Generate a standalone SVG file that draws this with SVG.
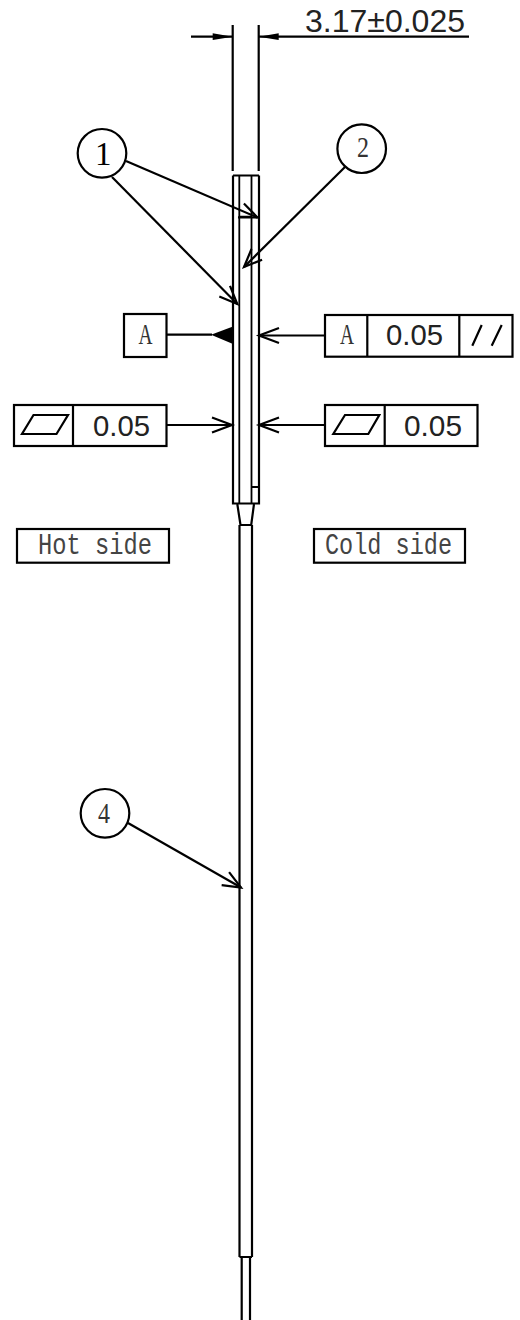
<svg xmlns="http://www.w3.org/2000/svg" width="520" height="1320" viewBox="0 0 520 1320">
<style>
.l{fill:none;stroke:#000;stroke-width:2.2}
.t{fill:none;stroke:#000;stroke-width:1.8}
.b{fill:#fff;stroke:#000;stroke-width:2.2}
.n{font-family:"Liberation Sans",Arial,sans-serif;font-size:30px;fill:#222}
.m{font-family:"Liberation Serif","Times New Roman",serif;font-size:29px;fill:#333;text-anchor:middle}
.s{font-family:"Liberation Mono","Courier New",monospace;font-size:30px;fill:#444}
</style>
<defs>
<marker id="open" markerUnits="userSpaceOnUse" markerWidth="24" markerHeight="20" refX="20" refY="10" orient="auto"><path d="M2 2.5 L20 10 L2 17.5" fill="none" stroke="#000" stroke-width="2.2"/></marker>
<marker id="wide" markerUnits="userSpaceOnUse" markerWidth="26" markerHeight="20" refX="22" refY="10" orient="auto"><path d="M2 2.5 L22 10 L2 17.5" fill="none" stroke="#000" stroke-width="2.2"/></marker>
<marker id="fill" markerUnits="userSpaceOnUse" markerWidth="24" markerHeight="12" refX="22" refY="6" orient="auto"><path d="M2 2.6 L22 6 L2 9.4Z" fill="#000"/></marker>
</defs>
<rect width="520" height="1320" fill="#fff"/>
<g id="part">
<path class="l" d="M233 175.5H259M233 175.5V503.5H259V175.5"/>
<path class="t" d="M239.3 175.5V503.5M251.5 175.5V503.5M239.3 216.7H251.5M251.5 487H259"/>
<path class="l" d="M237.3 504L240.5 525M254 504L251.2 525M239.5 525H252M239.5 525V1257M252 525V1257M239.5 1257H252"/>
<path class="l" d="M241.7 1257V1320M250 1257V1320"/>
</g>
<g id="dimension">
<path class="l" d="M232.7 25V171M258.7 25V171"/>
<text class="n" x="305" y="32" textLength="160" lengthAdjust="spacingAndGlyphs" style="font-size:31px">3.17±0.025</text>
</g>
<g id="connectors">
<path class="l" d="M191 36.7H232.7" marker-end="url(#fill)"/>
<path class="l" d="M469 36.7H258.7" marker-end="url(#fill)"/>
<path class="l" d="M126 161L257.5 217.5" marker-end="url(#open)"/>
<path class="l" d="M112 177L237.3 304" marker-end="url(#open)"/>
<path class="l" d="M345 167L244 267" marker-end="url(#open)"/>
<path class="l" d="M128 823L241 887.5" marker-end="url(#open)"/>
<path class="l" d="M166 334.7H212"/>
<path d="M211 334.7L233 326.5V344Z" fill="#000"/>
<path class="l" d="M166 425H232" marker-end="url(#wide)"/>
<path class="l" d="M325 335.5H259" marker-end="url(#wide)"/>
<path class="l" d="M325 425H259" marker-end="url(#wide)"/>
</g>
<g id="balloon-1"><circle class="b" cx="102" cy="153.3" r="24.3"/><text class="m" x="103.3" y="165" style="font-size:33px;fill:#000">1</text></g>
<g id="balloon-2"><circle class="b" cx="361.7" cy="148.7" r="24.3"/><text class="m" x="363" y="157" textLength="12" lengthAdjust="spacingAndGlyphs">2</text></g>
<g id="balloon-4"><circle class="b" cx="105" cy="813.3" r="24.3"/><text class="m" x="104" y="823" textLength="12" lengthAdjust="spacingAndGlyphs">4</text></g>
<g id="datum-a"><rect class="b" x="124" y="314" width="42.5" height="43"/><text class="m" x="145.5" y="344" textLength="14" lengthAdjust="spacingAndGlyphs">A</text></g>
<g id="flatness-left"><rect class="b" x="14" y="405" width="152.5" height="41"/><path class="l" d="M73 405V446M22 434H56.5L68 415H33.5Z"/><text class="n" x="93" y="436" textLength="57" lengthAdjust="spacingAndGlyphs">0.05</text></g>
<g id="parallel-right"><rect class="b" x="325" y="315" width="187.5" height="41.7"/><path class="l" d="M367.3 315V356.7M459.3 315V356.7M472.3 345.7L481.7 325M491.7 345.7L501.7 325"/><text class="m" x="347" y="344" textLength="14" lengthAdjust="spacingAndGlyphs">A</text><text class="n" x="386" y="345" textLength="57" lengthAdjust="spacingAndGlyphs">0.05</text></g>
<g id="flatness-right"><rect class="b" x="325" y="405" width="152.5" height="41"/><path class="l" d="M384.7 405V446M333.3 434H368.3L379.3 415H345Z"/><text class="n" x="404" y="436" textLength="58" lengthAdjust="spacingAndGlyphs">0.05</text></g>
<g id="hot-side"><rect class="b" x="17" y="529" width="152" height="33.7"/><text class="s" x="38" y="554" textLength="114" lengthAdjust="spacingAndGlyphs">Hot side</text></g>
<g id="cold-side"><rect class="b" x="314" y="529" width="151" height="33.7"/><text class="s" x="325" y="554" textLength="127" lengthAdjust="spacingAndGlyphs">Cold side</text></g>
</svg>
